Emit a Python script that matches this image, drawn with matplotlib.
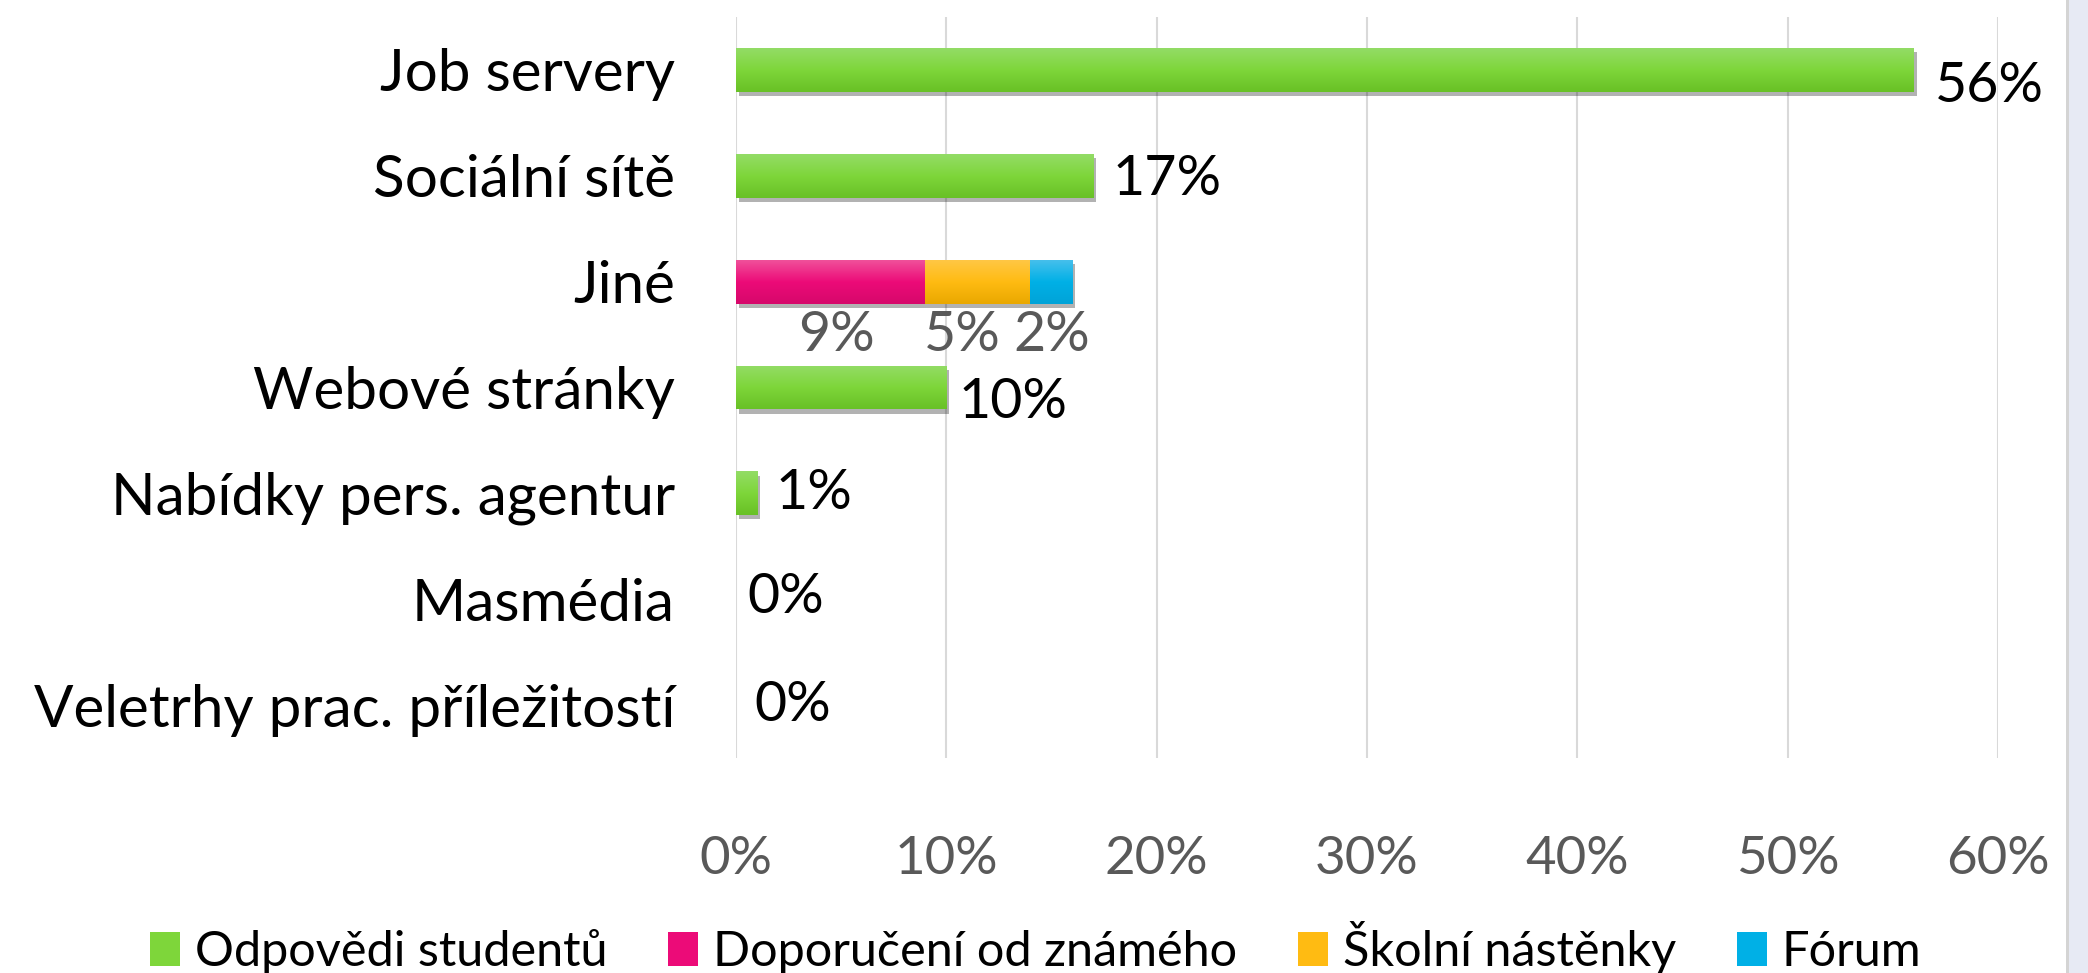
import numpy as np
import matplotlib
matplotlib.use("Agg")
import matplotlib.pyplot as plt
import matplotlib.patheffects as pe
from matplotlib.colors import LinearSegmentedColormap
from matplotlib.patches import Patch, Rectangle

# data (percent)
categories = ["Job servery", "Sociální sítě", "Jiné", "Webové stránky",
              "Nabídky pers. agentur", "Masmédia", "Veletrhy prac. příležitostí"]
studenti = [56, 17, np.nan, 10, 1, 0, 0]
doporuceni = [0, 0, 9, 0, 0, 0, 0]
nastenky = [0, 0, 5, 0, 0, 0, 0]
forum = [0, 0, 2, 0, 0, 0, 0]
series_names = ["Odpovědi studentů", "Doporučení od známého", "Školní nástěnky", "Fórum"]
xticks = [0, 10, 20, 30, 40, 50, 60]

plt.rcParams["font.family"] = ["Lato", "DejaVu Sans"]

# (top, middle, bottom) gradient colours per series
grads = {
    "green": ("#93dc66", "#7ed63a", "#68c126"),
    "pink": ("#f0509a", "#ec0b78", "#d6086b"),
    "yellow": ("#ffc744", "#ffbb12", "#e9a800"),
    "blue": ("#45bfec", "#00b0e6", "#00a3d8"),
}

fig = plt.figure(figsize=(20.88, 9.73), dpi=100)
ax = fig.add_axes([736 / 2088, 1 - 758 / 973, (1998 - 736) / 2088, (758 - 17) / 973])

# light panel on the right edge
fig.patches.append(Rectangle((2068 / 2088, 0), 20 / 2088, 1, transform=fig.transFigure,
                             facecolor="#e7eaf4", edgecolor="none", zorder=0))
fig.patches.append(Rectangle((2066 / 2088, 0), 3 / 2088, 1, transform=fig.transFigure,
                             facecolor="#d4d4d4", edgecolor="none", zorder=0))

n = len(categories)
y = np.arange(n)[::-1]
h = 0.415


def grad_bars(vals, left, key):
    top, mid, bot = grads[key]
    cmap = LinearSegmentedColormap.from_list(key, [top, mid, bot])
    vals = np.nan_to_num(np.asarray(vals, dtype=float))
    bars = ax.barh(y, vals, left=left, height=h, color=grads[key][1], zorder=3,
                   path_effects=[pe.SimplePatchShadow(offset=(2, -3), alpha=0.3,
                                                      shadow_rgbFace="#000000"),
                                 pe.Normal()])
    g = np.linspace(0, 1, 64).reshape(-1, 1)
    for b in bars:
        if b.get_width() <= 0:
            b.set_visible(False)
            continue
        x0, y0 = b.get_x(), b.get_y()
        im = ax.imshow(g, cmap=cmap, extent=[x0, x0 + b.get_width(), y0, y0 + b.get_height()],
                       origin="upper", aspect="auto", zorder=4)
        im.set_clip_path(b)
    return bars


grad_bars(studenti, 0, "green")
grad_bars(doporuceni, 0, "pink")
left2 = np.array(doporuceni)
grad_bars(nastenky, left2, "yellow")
left3 = left2 + np.array(nastenky)
grad_bars(forum, left3, "blue")

# data labels for the green series (offsets in points)
green_off = [(15, -12), (14, -3), None, (9, -11), (13, 0), (8, 1), (13, 0)]
for yi, v, off in zip(y, studenti, green_off):
    if off is None or np.isnan(v):
        continue
    ax.annotate(f"{v:.0f}%", (v, yi), xytext=off, textcoords="offset points",
                ha="left", va="center", fontsize=40, color="black", zorder=6)

# labels under the stacked "Jiné" bar
ji = categories.index("Jiné")
seg_off = [4, -11, 0]
lefts = [0, doporuceni[ji], doporuceni[ji] + nastenky[ji]]
for l, v, dx in zip(lefts, [doporuceni[ji], nastenky[ji], forum[ji]], seg_off):
    ax.annotate(f"{v}%", (l + v / 2, y[ji]), xytext=(dx, -39), textcoords="offset points",
                ha="center", va="center", fontsize=40, color="#595959", zorder=6)

ax.set_xlim(0, 60)
ax.set_ylim(-0.5, n - 0.5)
ax.set_xticks(xticks)
ax.set_xticklabels([f"{t}%" for t in xticks])
ax.set_yticks(y)
ax.set_yticklabels(categories)
ax.tick_params(axis="x", length=0, pad=56, labelsize=38, labelcolor="#595959")
ax.tick_params(axis="y", length=0, pad=44, labelsize=42, labelcolor="black")
ax.grid(axis="x", color="#d9d9d9", linewidth=1.5, zorder=0)
for s in ax.spines.values():
    s.set_visible(False)

handles = [Patch(facecolor=grads[k][1], edgecolor="none")
           for k in ["green", "pink", "yellow", "blue"]]
fig.legend(handles, series_names, loc="center", bbox_to_anchor=(0.496, 0.026), ncol=4,
           frameon=False, fontsize=35, handlelength=0.62, handleheight=0.7,
           handletextpad=0.3, columnspacing=1.25, borderpad=0.2)

fig.savefig("out.png", dpi=100)
